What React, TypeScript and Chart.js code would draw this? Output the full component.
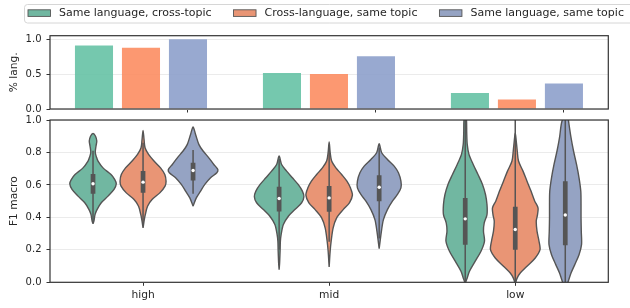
import React, { useEffect, useRef } from 'react';
import { Chart, registerables } from 'chart.js';

Chart.register(...registerables);

// ---------- data ----------
const categories = ['high', 'mid', 'low'];
const seriesLabels = ['Same language, cross-topic', 'Cross-language, same topic', 'Same language, same topic'];
const barColors = ['rgba(102,194,165,0.9)', 'rgba(252,141,98,0.9)', 'rgba(141,160,203,0.9)'];
const violinColors = ['#71b7a1', '#e99575', '#95a3c3'];

// top panel: % lang.
const pctLangSameCross = [0.91, 0.514, 0.23];
const pctLangCrossSame = [0.878, 0.5, 0.135];
const pctLangSameSame = [1.0, 0.757, 0.365];
const topTicks = [0, 0.5, 1.0];

// bottom panel: F1 macro box statistics [high, mid, low]
const q1SameCross = [0.545, 0.436, 0.232];
const q3SameCross = [0.668, 0.588, 0.52];
const medSameCross = [0.607, 0.516, 0.391];
const wLoSameCross = [0.37, 0.2, 0.0];
const wHiSameCross = [0.81, 0.76, 1.0];

const q1CrossSame = [0.551, 0.434, 0.201];
const q3CrossSame = [0.685, 0.593, 0.465];
const medCrossSame = [0.617, 0.52, 0.325];
const wLoCrossSame = [0.35, 0.25, 0.0];
const wHiCrossSame = [0.86, 0.84, 1.0];

const q1SameSame = [0.627, 0.5, 0.228];
const q3SameSame = [0.736, 0.66, 0.623];
const medSameSame = [0.689, 0.586, 0.415];
const wLoSameSame = [0.545, 0.27, 0.0];
const wHiSameSame = [0.815, 0.83, 1.0];

// violin density profiles (y levels and relative density) [high, mid, low]
const profYSameCross = [
  [0.36, 0.38, 0.417, 0.448, 0.49, 0.531, 0.572, 0.607, 0.633, 0.664, 0.705, 0.747, 0.77, 0.8, 0.84, 0.87, 0.9, 0.917],
  [0.078, 0.12, 0.2, 0.253, 0.294, 0.356, 0.407, 0.448, 0.49, 0.527, 0.562, 0.603, 0.644, 0.685, 0.726, 0.778],
  [-0.03, 0.0, 0.027, 0.068, 0.13, 0.191, 0.253, 0.315, 0.366, 0.417, 0.479, 0.541, 0.603, 0.664, 0.726, 0.788, 0.85, 0.92, 1.0, 1.03],
];
const profDSameCross = [
  [0, 0.04, 0.08, 0.16, 0.33, 0.6, 0.84, 0.93, 0.87, 0.72, 0.4, 0.2, 0.14, 0.09, 0.12, 0.15, 0.1, 0],
  [0, 0.02, 0.04, 0.05, 0.08, 0.17, 0.37, 0.63, 0.9, 0.99, 0.93, 0.76, 0.53, 0.3, 0.1, 0],
  [0, 0.02, 0.08, 0.17, 0.4, 0.63, 0.77, 0.73, 0.76, 0.87, 0.87, 0.81, 0.69, 0.51, 0.32, 0.15, 0.08, 0.06, 0.05, 0],
];
const profYCrossSame = [
  [0.335, 0.386, 0.417, 0.469, 0.51, 0.551, 0.593, 0.623, 0.664, 0.705, 0.747, 0.788, 0.829, 0.88, 0.936],
  [0.094, 0.191, 0.253, 0.335, 0.397, 0.448, 0.49, 0.537, 0.582, 0.623, 0.664, 0.705, 0.747, 0.8, 0.864],
  [-0.03, 0.0, 0.027, 0.057, 0.099, 0.15, 0.201, 0.253, 0.315, 0.377, 0.417, 0.459, 0.5, 0.562, 0.623, 0.685, 0.747, 0.809, 0.87, 0.92],
];
const profDCrossSame = [
  [0, 0.05, 0.09, 0.18, 0.36, 0.67, 0.88, 0.92, 0.87, 0.7, 0.44, 0.22, 0.08, 0.04, 0],
  [0, 0.04, 0.08, 0.16, 0.3, 0.56, 0.81, 0.93, 0.85, 0.71, 0.5, 0.27, 0.1, 0.04, 0],
  [0, 0.02, 0.08, 0.2, 0.47, 0.8, 0.99, 0.95, 0.87, 0.84, 0.89, 0.91, 0.78, 0.63, 0.47, 0.31, 0.13, 0.08, 0.04, 0],
];
const profYSameSame = [
  [0.469, 0.52, 0.562, 0.603, 0.644, 0.675, 0.695, 0.726, 0.767, 0.809, 0.85, 0.911, 0.957],
  [0.207, 0.315, 0.386, 0.448, 0.5, 0.541, 0.582, 0.623, 0.675, 0.716, 0.757, 0.798, 0.854],
  [-0.05, 0.006, 0.057, 0.109, 0.17, 0.232, 0.315, 0.397, 0.479, 0.562, 0.644, 0.726, 0.809, 0.891, 0.994, 1.05],
];
const profDSameSame = [
  [0, 0.13, 0.3, 0.47, 0.7, 0.95, 0.99, 0.83, 0.63, 0.4, 0.23, 0.1, 0],
  [0, 0.09, 0.17, 0.33, 0.53, 0.73, 0.87, 0.87, 0.77, 0.6, 0.33, 0.1, 0],
  [0, 0.12, 0.23, 0.38, 0.55, 0.65, 0.64, 0.63, 0.63, 0.62, 0.55, 0.45, 0.33, 0.23, 0.13, 0.08],
];
const bottomTicks = [0, 0.2, 0.4, 0.6, 0.8, 1.0];

// ---------- assembled series ----------
const pctLang = [pctLangSameCross, pctLangCrossSame, pctLangSameSame];
const q1s = [q1SameCross, q1CrossSame, q1SameSame];
const q3s = [q3SameCross, q3CrossSame, q3SameSame];
const meds = [medSameCross, medCrossSame, medSameSame];
const wLos = [wLoSameCross, wLoCrossSame, wLoSameSame];
const wHis = [wHiSameCross, wHiCrossSame, wHiSameSame];
const profYs = [profYSameCross, profYCrossSame, profYSameSame];
const profDs = [profDSameCross, profDCrossSame, profDSameSame];

const FONT = 'DejaVu Sans';
const TEXT = '#262626';
const LINE = '#555555';
const SPINE = '#333333';
const GRID = '#ebebeb';

const VIOLIN_HALF = 0.1344; // half width (x units) for density 1
const VIOLIN_OFFSET = 0.2688; // hue offset in violin panel
const BAR_OFFSET = 0.25; // hue offset in bar panel

const framePlugin = {
  id: 'frame',
  afterDraw(chart: any) {
    const { ctx, chartArea: a } = chart;
    ctx.save();
    ctx.strokeStyle = SPINE;
    ctx.lineWidth = 1.2;
    ctx.strokeRect(a.left, a.top, a.right - a.left, a.bottom - a.top);
    ctx.restore();
  },
};

const legendPlugin = {
  id: 'boxLegend',
  afterDraw(chart: any) {
    const { ctx } = chart;
    ctx.save();
    ctx.fillStyle = 'rgba(255,255,255,0.9)';
    ctx.strokeStyle = '#d6d6d6';
    ctx.lineWidth = 1;
    ctx.beginPath();
    ctx.roundRect(24.5, 4.5, 640, 18.5, 3);
    ctx.fill();
    ctx.stroke();
    ctx.font = `11px "${FONT}"`;
    ctx.textBaseline = 'middle';
    let x = 28;
    seriesLabels.forEach((lab, i) => {
      ctx.fillStyle = violinColors[i];
      ctx.fillRect(x, 9.8, 22.5, 6.6);
      ctx.strokeStyle = LINE;
      ctx.lineWidth = 0.9;
      ctx.strokeRect(x, 9.8, 22.5, 6.6);
      ctx.fillStyle = TEXT;
      const tx = x + 22.5 + 8.5;
      ctx.fillText(lab, tx, 13.5);
      x = tx + ctx.measureText(lab).width + 22;
    });
    ctx.restore();
  },
};

function violinPoints(center: number, ys: number[], ds: number[]) {
  const right = ys.map((y, i) => ({ x: center + ds[i] * VIOLIN_HALF, y }));
  const left = ys.map((y, i) => ({ x: center - ds[i] * VIOLIN_HALF, y })).reverse().slice(1);
  return [...right, ...left];
}

export default function App() {
  const topRef = useRef<HTMLCanvasElement>(null);
  const botRef = useRef<HTMLCanvasElement>(null);

  useEffect(() => {
    Chart.defaults.font.family = FONT;
    Chart.defaults.color = TEXT;

    const top = new Chart(topRef.current as HTMLCanvasElement, {
      type: 'bar',
      data: {
        datasets: seriesLabels.map((lab, s) => ({
          label: lab,
          data: pctLang[s].map((v, i) => ({ x: i, y: v })),
          backgroundColor: barColors[s],
          borderWidth: 0,
          categoryPercentage: 0.75,
          barPercentage: 0.81,
        })),
      } as any,
      options: {
        animation: false,
        responsive: false,
        devicePixelRatio: 1,
        events: [],
        layout: { padding: { top: 35.7, right: 21.7, left: 0, bottom: 0 } },
        plugins: { legend: { display: false }, tooltip: { enabled: false } },
        scales: {
          x: {
            type: 'linear',
            offset: false,
            min: -0.484,
            max: 2.486,
            afterBuildTicks: (s: any) => {
              s.ticks = categories.map((_, i) => ({ value: i + BAR_OFFSET }));
            },
            ticks: { display: false },
            grid: { offset: false, drawOnChartArea: false, tickLength: 3.5, tickColor: SPINE, tickWidth: 1 },
            border: { display: false },
            afterFit: (s: any) => {
              s.height = 7;
            },
          },
          y: {
            min: 0,
            max: 1.05,
            afterBuildTicks: (s: any) => {
              s.ticks = topTicks.map((v) => ({ value: v }));
            },
            ticks: { font: { size: 10 }, color: TEXT, padding: 5, callback: (v: any) => Number(v).toFixed(1) },
            grid: { color: GRID, tickColor: SPINE, tickLength: 3.5, tickWidth: 1 },
            border: { display: false },
            title: { display: true, text: '% lang.', font: { size: 10.7 }, color: TEXT, padding: { top: 8, bottom: 0 } },
            afterFit: (s: any) => {
              s.width = 50;
            },
          },
        },
      } as any,
      plugins: [framePlugin, legendPlugin],
    });

    const datasets: any[] = [];
    seriesLabels.forEach((lab, s) => {
      categories.forEach((_, c) => {
        const cx = c + (s - 1) * VIOLIN_OFFSET;
        datasets.push({
          label: lab,
          data: violinPoints(cx, profYs[s][c], profDs[s][c]),
          showLine: true,
          fill: 'shape',
          backgroundColor: violinColors[s],
          borderColor: LINE,
          borderWidth: 1.4,
          pointRadius: 0,
          tension: 0.3,
          borderJoinStyle: 'round',
          order: 4,
        });
        datasets.push({
          data: [{ x: cx, y: wLos[s][c] }, { x: cx, y: wHis[s][c] }],
          showLine: true,
          borderColor: LINE,
          borderWidth: 1.5,
          pointRadius: 0,
          order: 3,
        });
        datasets.push({
          data: [{ x: cx, y: q1s[s][c] }, { x: cx, y: q3s[s][c] }],
          showLine: true,
          borderColor: LINE,
          borderWidth: 4.7,
          borderCapStyle: 'butt',
          pointRadius: 0,
          order: 2,
        });
        datasets.push({
          data: [{ x: cx, y: meds[s][c] }],
          pointRadius: 1.7,
          pointBackgroundColor: '#ffffff',
          pointBorderWidth: 0,
          order: 1,
        });
      });
    });

    const bot = new Chart(botRef.current as HTMLCanvasElement, {
      type: 'scatter',
      data: { datasets },
      options: {
        animation: false,
        responsive: false,
        devicePixelRatio: 1,
        events: [],
        layout: { padding: { top: 12, right: 21.7, left: 0, bottom: 0 } },
        plugins: { legend: { display: false }, tooltip: { enabled: false } },
        scales: {
          x: {
            type: 'linear',
            min: -0.5,
            max: 2.5,
            afterBuildTicks: (s: any) => {
              s.ticks = categories.map((_, i) => ({ value: i }));
            },
            ticks: {
              font: { size: 10.7 },
              color: TEXT,
              padding: 3,
              autoSkip: false,
              maxRotation: 0,
              callback: (v: any) => categories[Math.round(Number(v))],
            },
            grid: { drawOnChartArea: false, tickLength: 3.5, tickColor: SPINE, tickWidth: 1 },
            border: { display: false },
            afterFit: (s: any) => {
              s.height = 25.7;
            },
          },
          y: {
            min: 0,
            max: 1,
            afterBuildTicks: (s: any) => {
              s.ticks = bottomTicks.map((v) => ({ value: v }));
            },
            ticks: { font: { size: 10 }, color: TEXT, padding: 5, callback: (v: any) => Number(v).toFixed(1) },
            grid: { color: GRID, tickColor: SPINE, tickLength: 3.5, tickWidth: 1 },
            border: { display: false },
            title: { display: true, text: 'F1 macro', font: { size: 10.7 }, color: TEXT, padding: { top: 8, bottom: 0 } },
            afterFit: (s: any) => {
              s.width = 50;
            },
          },
        },
      } as any,
      plugins: [framePlugin],
    });

    return () => {
      top.destroy();
      bot.destroy();
    };
  }, []);

  return (
    <div style={{ position: 'absolute', left: 0, top: 0, width: 630, height: 308, background: '#ffffff' }}>
      <canvas ref={topRef} width={630} height={120} style={{ position: 'absolute', left: 0, top: 0, display: 'block' }} />
      <canvas ref={botRef} width={630} height={200} style={{ position: 'absolute', left: 0, top: 108, display: 'block' }} />
    </div>
  );
}
